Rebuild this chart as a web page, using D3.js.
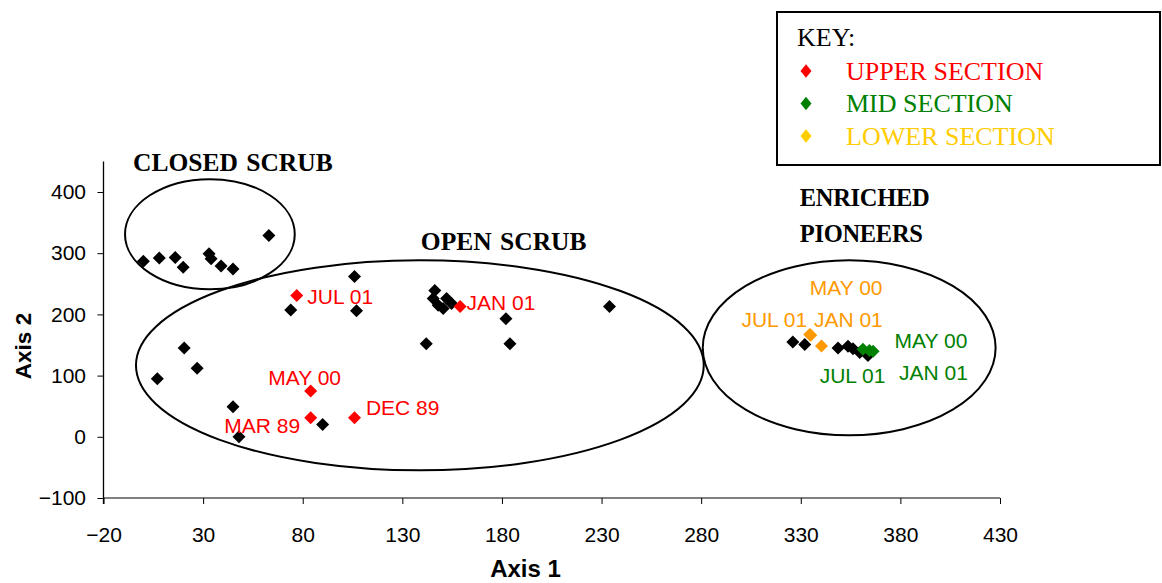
<!DOCTYPE html>
<html><head><meta charset="utf-8">
<script src="https://cdn.jsdelivr.net/npm/d3@7"></script>
<style>body{margin:0;background:#fff} svg{display:block}</style>
</head><body><svg id="c" width="1162" height="583"></svg>
<script>
// ---- data ----
const xTicks = [-20, 30, 80, 130, 180, 230, 280, 330, 380, 430];
const yTicks = [-100, 0, 100, 200, 300, 400];

// unlabelled sites (black)
const otherX = [0, 8, 16, 20, 33, 34, 39, 45, 63,
  106, 74, 107, 20.5, 27, 7, 45, 48, 90,
  146.3, 145.5, 148, 152.2, 154.7, 150.5, 182, 234, 142, 184,
  326, 332, 348.7, 353.7, 356.2, 359.6, 363.7];
const otherY = [287, 292, 293, 277, 299, 291, 279, 274, 329,
  262, 207, 206, 145, 112, 95, 49, 0, 20,
  239, 226, 215, 226, 218, 209.5, 193, 213, 152, 152,
  155, 151, 145, 148, 144, 137.6, 133];

// upper section (red)
const upperNames = ["MAR 89", "DEC 89", "MAY 00", "JUL 01", "JAN 01"];
const upperX = [84, 106, 84, 77, 159];
const upperY = [31, 31, 75, 231, 213];
const upperLabX = [40.6, 111.7, 62.7, 82.3, 162.2];
const upperLabY = [6.2, 35.1, 84.2, 217.6, 206.7];

// mid section (green)
const midNames = ["MAY 00", "JUL 01", "JAN 01"];
const midX = [366.3, 361.2, 364.5];
const midY = [139.7, 143, 141];
const midLabX = [377.1, 339.5, 379.3];
const midLabY = [145.8, 87.9, 93.5];

// lower section (orange)
const lowerNames = ["MAY 00", "JUL 01", "JAN 01"];
const lowerX = [334.5, 340.4, 335];
const lowerY = [167, 148.4, 166];
const lowerLabX = [334.5, 300.2, 336.6];
const lowerLabY = [231.2, 179.4, 179.4];

// groups
const groupNames = ["CLOSED SCRUB", "OPEN SCRUB", "ENRICHED", "PIONEERS"];
const groupLabX = [-5.2, 139.3, 329.5, 329.5];
const groupLabY = [434.3, 304.7, 377.5, 318.3];
const ellCX = [33.4, 138.8, 354.3];
const ellCY = [331, 116.8, 145.4];
const ellRX = [42.6, 142.5, 73.5];
const ellRY = [90, 171.6, 143];

const legendNames = ["UPPER SECTION", "MID SECTION", "LOWER SECTION"];
const legendColors = ["#ff0000", "#008000", "#ffcc00"];

// ---- drawing ----
const svg = d3.select("#c");
const x = d3.scaleLinear().domain([-20, 430]).range([103.5, 1000]);
const y = d3.scaleLinear().domain([-100, 450]).range([498, 161.4]);
const sans = "Arial, 'Liberation Sans', sans-serif";
const serif = "'Liberation Serif', 'Times New Roman', serif";

// axes
const gx = svg.append("g").attr("transform", `translate(0,${y(-100)})`)
  .call(d3.axisBottom(x).tickValues(xTicks).tickSize(6).tickPadding(23).tickFormat(d3.format("d")));
gx.select(".domain").attr("stroke", "#808080").attr("stroke-width", 2).attr("d", `M${x(-20)},0H${x(430)}`);
gx.selectAll(".tick line").attr("stroke", "#000");
gx.selectAll(".tick text").attr("font-family", sans).attr("font-size", 21).attr("fill", "#000");

const gy = svg.append("g").attr("transform", `translate(${x(-20)},0)`)
  .call(d3.axisLeft(y).tickValues(yTicks).tickSize(6).tickPadding(11.5).tickFormat(d3.format("d")));
gy.select(".domain").attr("stroke", "#000").attr("stroke-width", 1.3).attr("d", `M0,${y(450)}V${y(-100) + 6}`);
gy.selectAll(".tick text").attr("font-family", sans).attr("font-size", 21).attr("fill", "#000");

// axis titles
svg.append("text").attr("x", 525.5).attr("y", 577).attr("text-anchor", "middle")
  .attr("font-family", sans).attr("font-weight", "bold").attr("font-size", 24).text("Axis 1");
svg.append("text").attr("transform", `translate(31,346) rotate(-90)`).attr("text-anchor", "middle")
  .attr("font-family", sans).attr("font-weight", "bold").attr("font-size", 22.5).text("Axis 2");

// ellipses
svg.append("g").selectAll("ellipse").data(ellCX).join("ellipse")
  .attr("cx", (d, i) => x(ellCX[i])).attr("cy", (d, i) => y(ellCY[i]))
  .attr("rx", (d, i) => x(ellRX[i]) - x(0)).attr("ry", (d, i) => y(0) - y(ellRY[i]))
  .attr("fill", "none").attr("stroke", "#000").attr("stroke-width", 2);

// group titles
svg.append("g").selectAll("text").data(groupNames).join("text")
  .attr("x", (d, i) => x(groupLabX[i])).attr("y", (d, i) => y(groupLabY[i]))
  .attr("font-family", serif).attr("font-weight", "bold")
  .attr("font-size", (d, i) => i < 2 ? 25.5 : 24.5)
  .attr("letter-spacing", (d, i) => i < 2 ? 0 : -0.3)
  .attr("word-spacing", (d, i) => i < 2 ? 2 : 0).text(d => d);

function diam(s) { return `M0,${-s}L${s},0L0,${s}L${-s},0Z`; }

function drawSeries(xs, ys, color) {
  svg.append("g").selectAll("path").data(xs).join("path")
    .attr("transform", (d, i) => `translate(${x(xs[i])},${y(ys[i])})`)
    .attr("d", diam(6.5)).attr("fill", color);
}
function drawLabels(names, lx, ly, color) {
  svg.append("g").selectAll("text").data(names).join("text")
    .attr("x", (d, i) => x(lx[i])).attr("y", (d, i) => y(ly[i]))
    .attr("font-family", sans).attr("font-size", 21)
    .attr("fill", color).text(d => d);
}

drawSeries(otherX, otherY, "#000");
drawSeries(lowerX, lowerY, "#ff9900");
drawSeries(midX, midY, "#008000");
drawSeries(upperX, upperY, "#ff0000");
drawLabels(upperNames, upperLabX, upperLabY, "#ff0000");
drawLabels(midNames, midLabX, midLabY, "#008000");
drawLabels(lowerNames, lowerLabX, lowerLabY, "#ff9900");

// legend
const lg = svg.append("g");
lg.append("rect").attr("x", 777).attr("y", 12).attr("width", 383).attr("height", 153)
  .attr("fill", "#fff").attr("stroke", "#000").attr("stroke-width", 2);
lg.append("text").attr("x", 797).attr("y", 46).attr("font-family", serif)
  .attr("font-size", 26).text("KEY:");
const li = lg.selectAll("g.item").data(legendNames).join("g").attr("class", "item")
  .attr("transform", (d, i) => `translate(0,${71 + i * 32.5})`);
li.append("path").attr("transform", "translate(806,0)").attr("d", "M0,-6.8L5.5,0L0,6.8L-5.5,0Z")
  .attr("fill", (d, i) => legendColors[i]);
li.append("text").attr("x", 846).attr("y", 8.5).attr("font-family", serif)
  .attr("font-size", 26).attr("fill", (d, i) => legendColors[i]).text(d => d);
</script>
</body></html>
